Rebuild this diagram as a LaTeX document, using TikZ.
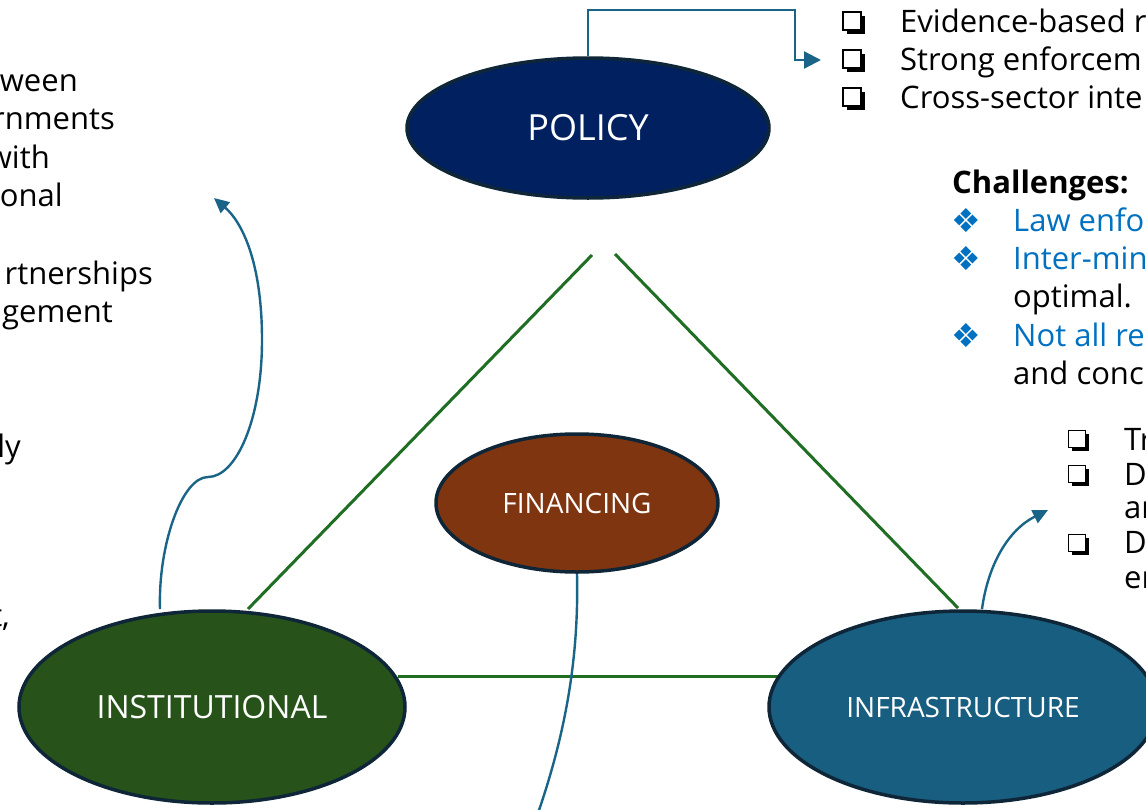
\documentclass[tikz,border=0pt]{standalone}
\usepackage{fontspec}
\setmainfont{Open Sans}
\newfontfamily\symfont{DejaVu Sans}
\usetikzlibrary{arrows.meta,shapes.geometric,shadows}

\definecolor{policyblue}{HTML}{002060}
\definecolor{finbrown}{HTML}{7F3510}
\definecolor{instgreen}{HTML}{27531A}
\definecolor{infrablue}{HTML}{175E80}
\definecolor{rimdark}{HTML}{0E2638}
\definecolor{edgegreen}{HTML}{1F6E24}
\definecolor{linkblue}{HTML}{1A6587}
\definecolor{hiblue}{HTML}{0070C0}

\tikzset{
  pillar/.style={ellipse, draw=rimdark, line width=3.5pt, inner sep=0pt,
    text=white, align=center},
  edge/.style={draw=edgegreen, line width=3pt},
  link/.style={draw=linkblue, line width=2.4pt,
    -{Triangle[length=15pt,width=14pt]}},
  plainlink/.style={draw=linkblue, line width=2.4pt},
  txt/.style={anchor=base west, inner sep=0pt, font=\fontsize{31}{36}\selectfont},
  rtxt/.style={anchor=base east, inner sep=0pt, font=\fontsize{31}{36}\selectfont},
  tickbox/.style={rectangle, draw=black, line width=1.4pt, fill=white,
    minimum size=#1, inner sep=0pt,
    drop shadow={shadow xshift=3.5pt, shadow yshift=-3.5pt, fill=black, opacity=1}},
  orn/.style={anchor=base west, inner sep=0pt, text=hiblue, font=\symfont\fontsize{33}{36}\selectfont},
}

\begin{document}
\begin{tikzpicture}[x=1pt,y=-1pt]
  \useasboundingbox (0,0) rectangle (1146,809);
  \clip (0,0) rectangle (1146,809);

  % triangle of green edges
  \coordinate (pl) at (592,255);
  \coordinate (pr) at (615,254);
  \coordinate (il) at (248,609);
  \coordinate (ir) at (958,608);
  \coordinate (hl) at (398,676);
  \coordinate (hr) at (778,676);
  \draw[edge] (pl) -- (il);
  \draw[edge] (pr) -- (ir);
  \draw[edge] (hl) -- (hr);

  % the four pillars
  \node[pillar, fill=policyblue, minimum width=362pt, minimum height=140pt,
        font=\fontsize{36}{40}\selectfont] (policy) at (588,128) {POLICY};
  \node[pillar, fill=finbrown, minimum width=282pt, minimum height=138pt,
        font=\fontsize{28}{32}\selectfont] (fin) at (577,503) {FINANCING};
  \node[pillar, fill=instgreen, minimum width=386pt, minimum height=192pt,
        font=\fontsize{32}{36}\selectfont] (inst) at (212,707) {INSTITUTIONAL};
  \node[pillar, fill=infrablue, minimum width=388pt, minimum height=192pt,
        font=\fontsize{28}{32}\selectfont] (infra) at (963,707) {INFRASTRUCTURE};

  % blue connectors
  \coordinate (pt) at (588,10);
  \coordinate (pe) at (795,10);
  \coordinate (pd) at (795,60);
  \coordinate (ptip) at (821,60);
  \draw[link, -{Triangle[length=17pt,width=17pt]}] (policy.north) -- (pt) -- (pe) -- (pd) -- (ptip);

  \coordinate (ia) at (160,609);
  \coordinate (ik) at (208,477);
  \coordinate (itip) at (214,198);
  \draw[link] (ia) .. controls (158,545) and (182,477) .. (ik)
              .. controls (236,477) and (262,420) .. (262,340)
              .. controls (262,262) and (242,222) .. (itip);

  \coordinate (ra) at (982,609);
  \coordinate (rtip) at (1048,510);
  \draw[link] (ra) .. controls (988,565) and (1008,530) .. (rtip);

  \coordinate (fout) at (532,830);
  \draw[plainlink] (fin.south) .. controls (579,660) and (565,740) .. (fout);

  % policy notes (top right)
  \node[tickbox=18pt] (b1) at (852,21) {};
  \node[tickbox=18pt] (b2) at (852,59) {};
  \node[tickbox=18pt] (b3) at (852,97) {};
  \node[txt] (t1) at (900,32) {Evidence-based r};
  \node[txt] (t2) at (900,70) {Strong enforcem};
  \node[txt] (t3) at (900,108) {Cross-sector inte};

  % challenges
  \node[txt, font=\bfseries\fontsize{31}{36}\selectfont] (ch) at (952,193) {Challenges:};
  \node[orn] (o1) at (951,232) {❖};
  \node[orn] (o2) at (951,270) {❖};
  \node[orn] (o3) at (951,347) {❖};
  \node[txt, text=hiblue] (c1) at (1013,231) {Law enfo};
  \node[txt, text=hiblue] (c2) at (1013,269) {Inter-min};
  \node[txt] (c2b) at (1013,307) {optimal.};
  \node[txt, text=hiblue] (c3) at (1013,346) {Not all re};
  \node[txt] (c3b) at (1013,384) {and conc};

  % infrastructure notes
  \node[tickbox=17pt] (d1) at (1077,439) {};
  \node[tickbox=17pt] (d2) at (1077,474) {};
  \node[tickbox=17pt] (d3) at (1077,543) {};
  \node[txt] (e1) at (1124,450) {Tr};
  \node[txt] (e2) at (1124,485) {D};
  \node[txt] (e2b) at (1124,518) {an};
  \node[txt] (e3) at (1124,553) {D};
  \node[txt] (e3b) at (1124,588) {en};

  % institutional notes (left edge)
  \node[rtxt] (l1) at (78,91) {ween};
  \node[rtxt] (l2) at (115,129) {rnments};
  \node[rtxt] (l3) at (50,168) {with};
  \node[rtxt] (l4) at (63,206) {onal};
  \node[rtxt] (l5) at (153,284) {rtnerships};
  \node[rtxt] (l6) at (113,322) {gement};
  \node[rtxt] (l7) at (21,457) {ly};
  \node[rtxt] (l8) at (10,626) {t,};
\end{tikzpicture}
\end{document}
